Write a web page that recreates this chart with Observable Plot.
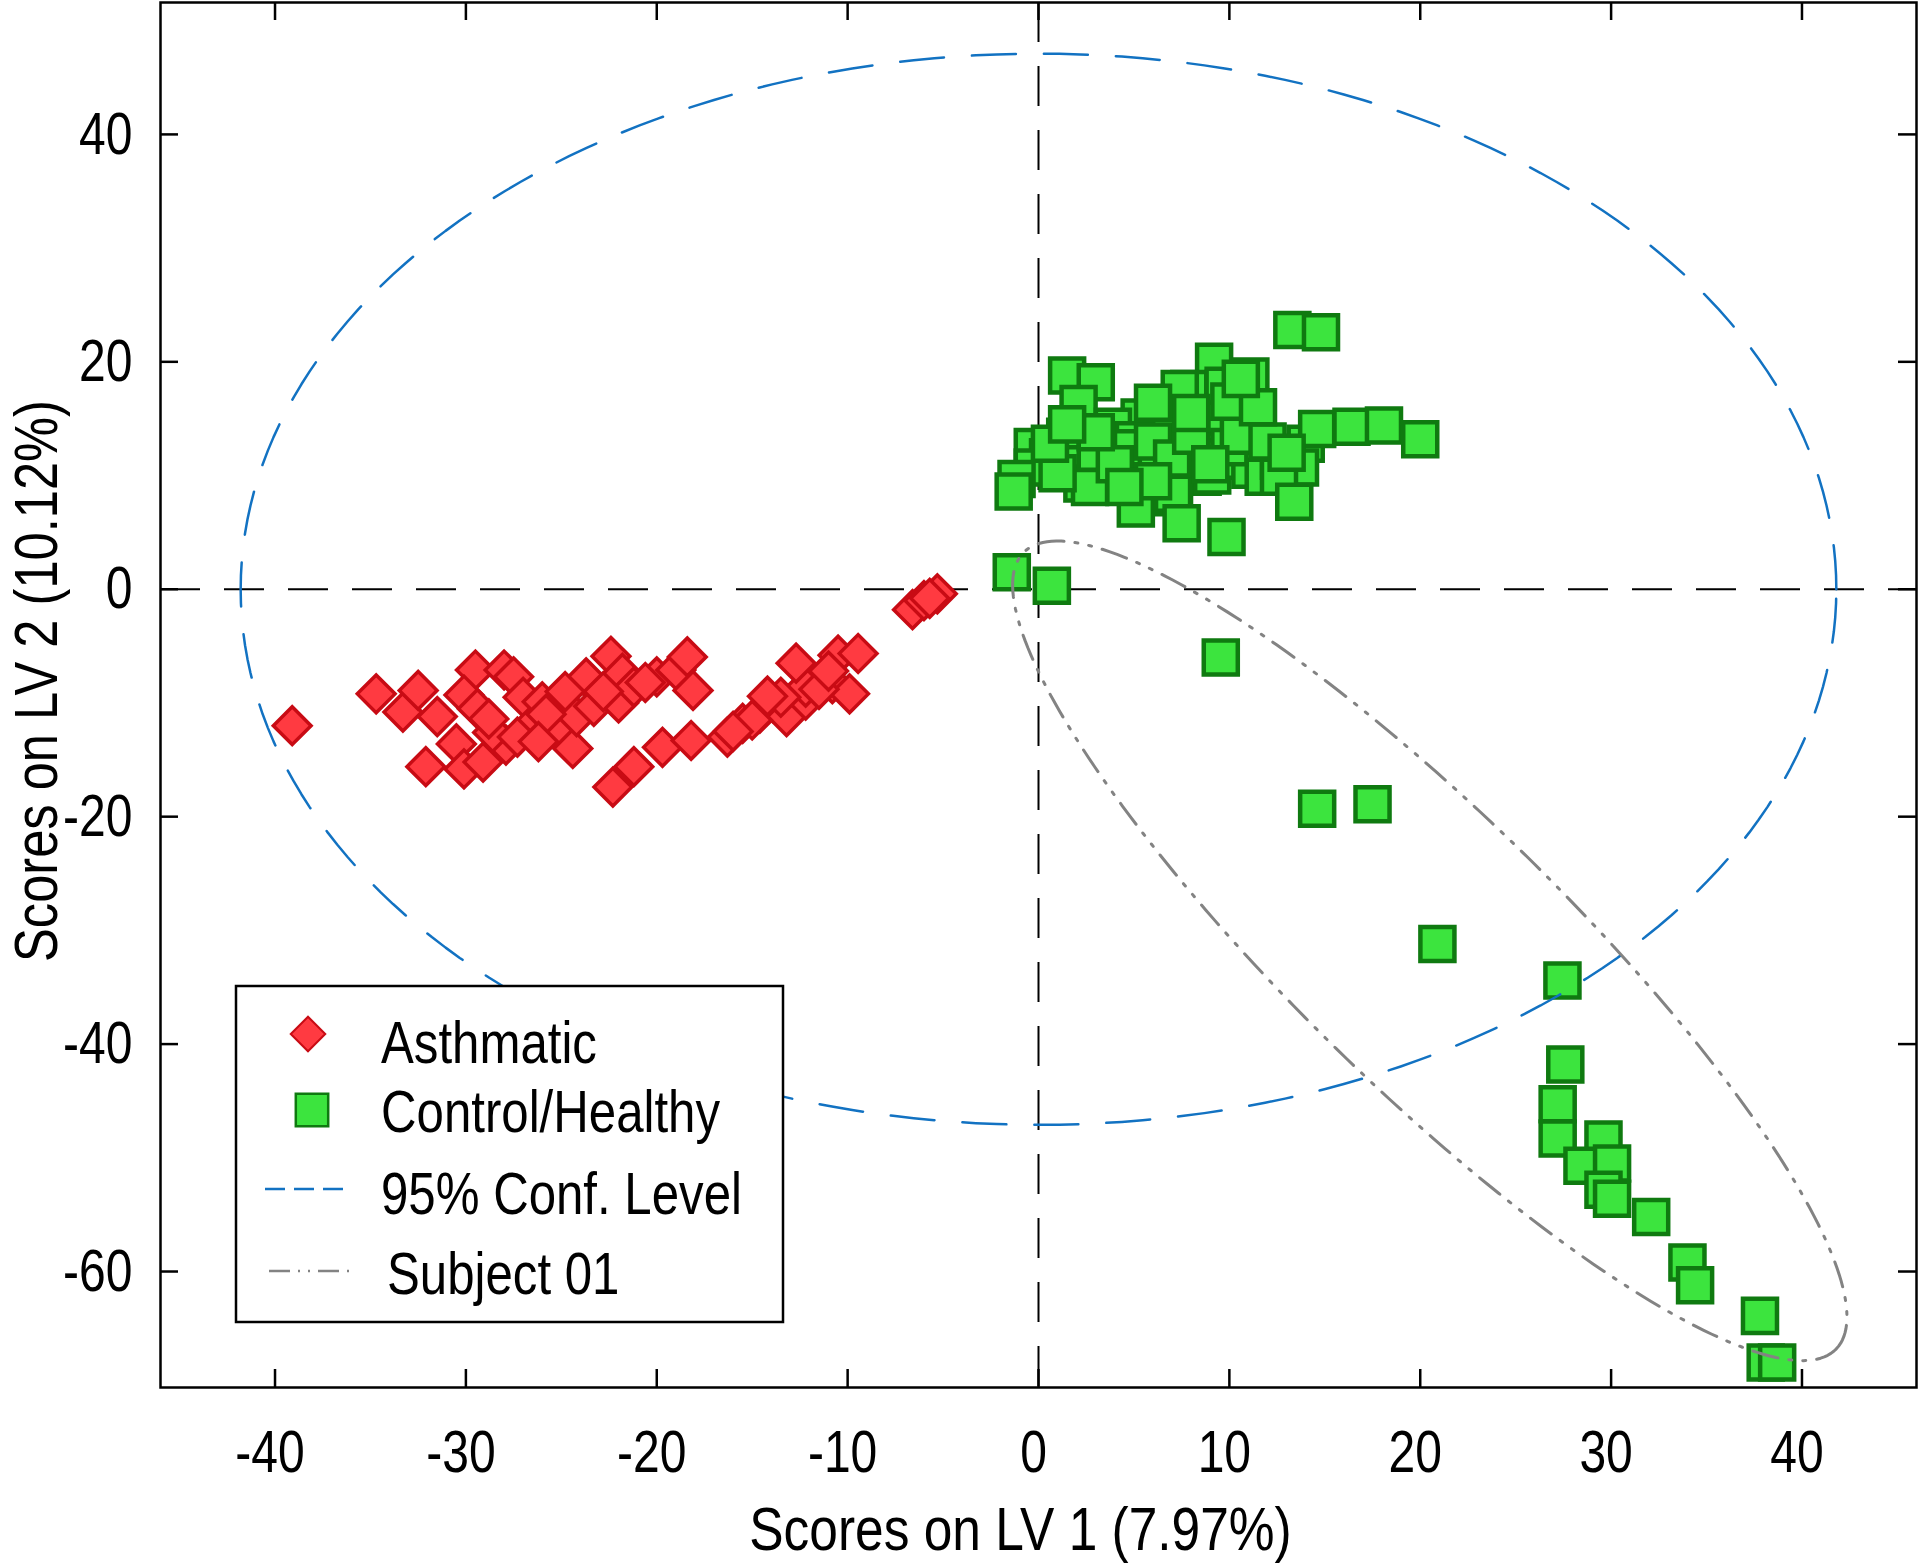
<!DOCTYPE html>
<html>
<head>
<meta charset="utf-8">
<script src="https://cdn.jsdelivr.net/npm/d3@7"></script>
<script src="https://cdn.jsdelivr.net/npm/@observablehq/plot@0.6"></script>
<style>
  html, body { margin: 0; padding: 0; background: #fff; }
  #chart svg { display: block; }
</style>
</head>
<body>
<div id="chart"></div>
<script>
// ---------- data ----------
const xTicks = [-40, -30, -20, -10, 0, 10, 20, 30, 40];
const yTicks = [-60, -40, -20, 0, 20, 40];
const xLabel = "Scores on LV 1 (7.97%)";
const yLabel = "Scores on LV 2 (10.12%)";
const legendLabels = ["Asthmatic", "Control/Healthy", "95% Conf. Level", "Subject 01"];

// Asthmatic scores [LV1, LV2]
const asthmatic = [
  [-39.1,-12.0],[-34.7,-9.2],[-33.3,-10.8],[-32.5,-8.9],[-31.5,-11.2],[-32.1,-15.6],
  [-30.5,-13.6],[-30.1,-15.8],[-29.5,-7.1],[-30.1,-9.3],[-29.4,-10.5],[-29.1,-15.2],
  [-28.0,-7.1],[-27.5,-7.7],[-27.0,-9.5],[-27.9,-13.7],[-26.7,-12.2],[-26.0,-9.9],
  [-25.2,-12.4],[-24.4,-14.0],[-24.2,-11.2],[-23.7,-7.8],[-23.3,-10.3],[-22.4,-5.9],
  [-21.8,-7.4],[-22.0,-10.0],[-21.2,-8.6],[-22.3,-17.4],[-21.2,-15.6],[-28.6,-12.6],
  [-27.3,-13.0],[-25.8,-11.0],[-22.8,-9.0],[-20.0,-7.7],[-19.0,-7.1],[-18.4,-5.95],
  [-18.1,-8.9],[-19.7,-13.9],[-18.2,-13.3],[-16.3,-13.0],[-15.5,-11.8],[-14.6,-10.9],
  [-13.9,-10.0],[-13.2,-11.2],[-12.2,-9.75],[-12.2,-8.6],[-12.7,-6.5],[-10.8,-8.3],
  [-9.9,-9.2],[-10.5,-5.8],[-9.45,-5.65],[-11.5,-8.8],[-13.5,-9.5],[-15.0,-11.5],
  [-16.0,-12.5],[-6.6,-1.8],[-6.0,-1.0],[-5.3,-0.4],[-5.7,-0.8],
  [-28.8,-11.4],[-26.2,-13.4],[-24.8,-9.0],[-20.6,-8.2],[-11.0,-7.2],[-14.2,-9.4]
];

// Control/Healthy scores [LV1, LV2]
const control = [
  [13.3,22.8],[14.8,22.6],[9.2,20.0],[11.1,18.7],[7.9,17.6],[9.7,17.6],[1.5,18.8],
  [3.0,18.2],[2.1,16.3],[7.4,17.6],[9.7,17.9],[9.7,14.9],[11.1,14.0],[5.3,15.1],
  [1.4,13.4],[6.9,14.0],[3.9,14.3],[4.1,13.1],[5.0,13.1],[-0.3,12.5],[4.9,12.4],
  [6.35,12.5],[8.3,12.2],[11.8,12.1],[14.0,12.8],[14.6,14.1],[16.4,14.3],[18.1,14.4],
  [20.0,13.2],[0.5,11.6],[2.0,11.0],[3.6,10.6],[5.8,11.0],[6.2,10.2],[7.75,12.8],
  [8.3,11.6],[8.6,9.9],[9.1,10.0],[10.5,11.3],[11.1,10.5],[11.8,9.9],[12.6,11.3],
  [12.8,10.5],[13.7,10.7],[12.6,9.9],[-0.3,10.7],[-1.15,9.7],[-1.3,8.6],[2.3,9.3],
  [2.7,9.0],[5.1,7.1],[7.1,8.1],[7.05,8.4],[13.4,7.7],[7.5,5.8],[9.85,4.6],
  [3.0,12.0],[4.0,11.0],[6.0,13.0],[7.0,11.5],[8.0,13.5],[10.0,12.5],[10.5,13.5],
  [12.0,13.0],[13.0,12.0],[9.0,11.0],[6.0,9.5],[4.5,9.0],[1.0,10.2],[3.0,13.8],
  [8.0,15.5],[10.0,16.5],[11.5,16.0],[6.0,16.4],[10.6,18.5],[0.6,12.8],[1.5,14.5],
  [-1.4,1.5],[0.7,0.3],[9.55,-6.0],[14.6,-19.3],[17.5,-18.9],[20.9,-31.2],
  [27.45,-34.4],[27.6,-41.8],[27.2,-45.3],[27.2,-48.3],[29.6,-48.4],[28.5,-50.7],
  [30.05,-50.5],[29.6,-52.8],[30.05,-53.6],[32.1,-55.2],[34.0,-59.2],[34.4,-61.2],
  [37.8,-63.9],[38.1,-68.0],[38.7,-68.0]
];

// 95% confidence ellipse: centre and semi-axes (scores units)
const confCenter = [0, 0];
const confRadii = [41.8, 47.1];
// Subject 01 ellipse: centre and two conjugate half-axis vectors
const subjCenter = [20.5, -31.8];
const subjAxisU = [21.3, -35.0];
const subjAxisV = [4.9, 8.6];

// ---------- derived tables ----------
const ptsA = asthmatic.map(([x, y]) => ({x, y}));
const ptsC = control.map(([x, y]) => ({x, y}));
const N = 240;
const conf = d3.range(N + 1).map(i => {
  const t = 2 * Math.PI * i / N;
  return {x: confCenter[0] + confRadii[0] * Math.cos(t), y: confCenter[1] + confRadii[1] * Math.sin(t)};
});
const subj = d3.range(N + 1).map(i => {
  const t = 2 * Math.PI * i / N;
  return {
    x: subjCenter[0] + subjAxisU[0] * Math.cos(t) + subjAxisV[0] * Math.sin(t),
    y: subjCenter[1] + subjAxisU[1] * Math.cos(t) + subjAxisV[1] * Math.sin(t)
  };
});

// ---------- styling ----------
const W = 1920, H = 1565;
const mL = 160, mR = 4, mT = 2, mB = 178;
const frameW = W - mL - mR, frameH = H - mT - mB;
const tickLen = 18;
const FONT = "'Liberation Sans', Arial, sans-serif";
const redFill = "#ff3a41", redStroke = "#c80b14";
const greenFill = "#3ce43e", greenStroke = "#0f7a10";
const blue = "#1272c2", grey = "#838383";
const fmt = d => String(d);

const chart = Plot.plot({
  width: W, height: H,
  marginLeft: mL, marginRight: mR, marginTop: mT, marginBottom: mB,
  style: {fontFamily: FONT, background: "white", color: "black"},
  x: {domain: [-46, 46]},
  y: {domain: [-70.2, 51.6]},
  marks: [
    Plot.ruleX([0], {stroke: "black", strokeWidth: 2, strokeDasharray: "40,24"}),
    Plot.ruleY([0], {stroke: "black", strokeWidth: 2, strokeDasharray: "40,24"}),
    Plot.dot(ptsA, {x: "x", y: "y", symbol: "diamond2", r: 17, fill: redFill, stroke: redStroke, strokeWidth: 3.5}),
    Plot.dot(ptsC, {x: "x", y: "y", symbol: "square", r: 19.2, fill: greenFill, stroke: greenStroke, strokeWidth: 4.5}),
    Plot.line(conf, {x: "x", y: "y", stroke: blue, strokeWidth: 2.5, strokeDasharray: "44,28"}),
    Plot.line(subj, {x: "x", y: "y", stroke: grey, strokeWidth: 3, strokeDasharray: "26,11,3,11,3,11"}),
    // inward ticks on all four sides
    Plot.ruleX(xTicks, {x: d => d, insetTop: frameH - tickLen, stroke: "black", strokeWidth: 2.5}),
    Plot.ruleX(xTicks, {x: d => d, insetBottom: frameH - tickLen, stroke: "black", strokeWidth: 2.5}),
    Plot.ruleY(yTicks, {y: d => d, insetRight: frameW - tickLen, stroke: "black", strokeWidth: 2.5}),
    Plot.ruleY(yTicks, {y: d => d, insetLeft: frameW - tickLen, stroke: "black", strokeWidth: 2.5}),
    Plot.frame({stroke: "black", strokeWidth: 2.5}),
    Plot.axisX({ticks: xTicks, tickSize: 0, tickPadding: 42, tickFormat: fmt, fontSize: 60, label: null, dx: -5}),
    Plot.axisY({ticks: yTicks, tickSize: 0, tickPadding: 28, tickFormat: fmt, fontSize: 60, label: null}),
    Plot.text([xLabel], {frameAnchor: "bottom", textAnchor: "middle", lineAnchor: "middle", dy: 143, dx: -18, fontSize: 62, fill: "black"}),
    Plot.text([yLabel], {frameAnchor: "left", textAnchor: "middle", lineAnchor: "middle", rotate: -90, dx: -123, dy: -14, fontSize: 61, fill: "black"})
  ]
});
document.getElementById("chart").appendChild(chart);

// horizontally condensed text (as in the original figure)
function squeeze(nodes, k) {
  nodes.each(function () {
    const t = this.getAttribute("transform") || "";
    this.setAttribute("transform", `${t} scale(${k},1)`);
  });
}
const svg = d3.select(chart);
squeeze(svg.selectAll('g[aria-label="x-axis tick label"] text, g[aria-label="y-axis tick label"] text'), 0.8);
squeeze(svg.selectAll('g[aria-label="text"] text'), 0.83);

// ---------- legend (inside the frame, lower left) ----------
const lg = svg.append("g").attr("font-family", FONT).attr("font-size", 60).attr("text-anchor", "start");
lg.append("rect").attr("x", 236).attr("y", 986).attr("width", 547).attr("height", 336)
  .attr("fill", "white").attr("stroke", "black").attr("stroke-width", 2.5);
lg.append("path").attr("transform", "translate(308,1034)")
  .attr("d", d3.symbol(d3.symbolDiamond2, 760)())
  .attr("fill", redFill).attr("stroke", redStroke).attr("stroke-width", 2);
lg.append("path").attr("transform", "translate(312,1110)")
  .attr("d", d3.symbol(d3.symbolSquare, 1050)())
  .attr("fill", greenFill).attr("stroke", greenStroke).attr("stroke-width", 2.5);
lg.append("line").attr("x1", 265).attr("x2", 343).attr("y1", 1189).attr("y2", 1189)
  .attr("stroke", blue).attr("stroke-width", 2.5).attr("stroke-dasharray", "20,9");
lg.append("line").attr("x1", 269).attr("x2", 351).attr("y1", 1271).attr("y2", 1271)
  .attr("stroke", grey).attr("stroke-width", 2.5).attr("stroke-dasharray", "21,8,2,8,2,8");
const rowY = [1063, 1132, 1214, 1294];
const rowX = [381, 381, 381, 387];
legendLabels.forEach((s, i) => {
  lg.append("text").attr("transform", `translate(${rowX[i]},${rowY[i]}) scale(0.82,1)`)
    .attr("text-anchor", "start").attr("fill", "black").text(s);
});
</script>
</body>
</html>
